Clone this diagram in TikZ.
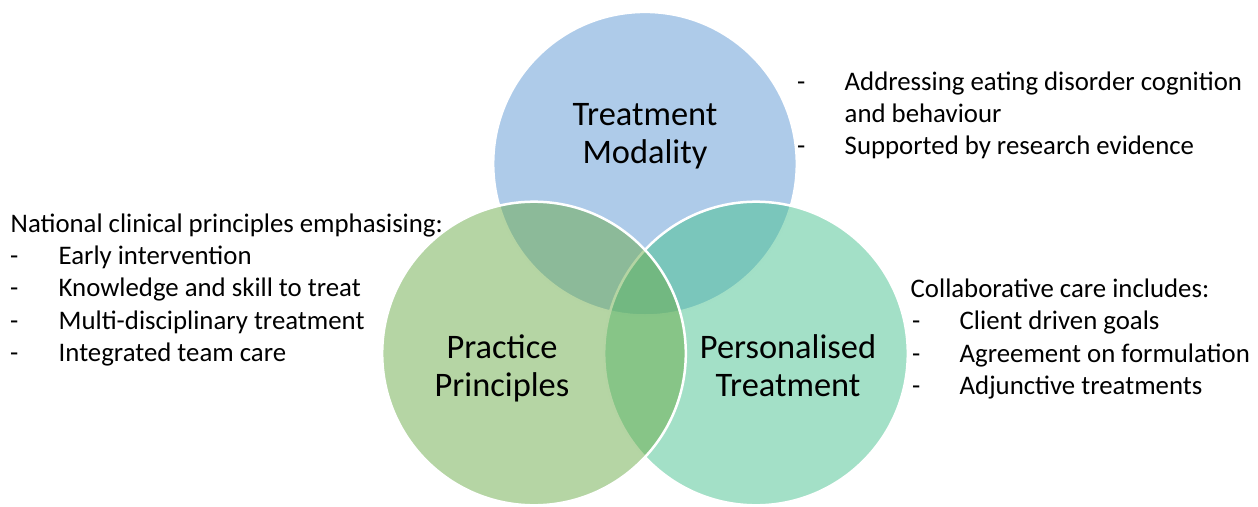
\documentclass[tikz,border=0pt]{standalone}
\usepackage{fontspec}
\setmainfont{Carlito}
\definecolor{cBlue}{RGB}{93,151,211}
\definecolor{cGreen}{RGB}{107,171,73}
\definecolor{cTeal}{RGB}{71,193,143}
\begin{document}
\begin{tikzpicture}[x=1pt,y=-1pt,
  venn/.style={circle, minimum size=303.6pt, inner sep=0pt, fill opacity=0.5, draw=white, line width=2.5pt},
  lab/.style={font=\fontsize{34.4}{38}\selectfont, inner sep=0pt, anchor=base},
  txt/.style={font=\fontsize{26.8}{32}\selectfont, inner sep=0pt, anchor=base west}]
\useasboundingbox (0,0) rectangle (1258,506);
% circles
\node[venn, fill=cBlue]  (tm) at (645,163.7) {};
\node[venn, fill=cTeal]  (pt) at (756,353.5) {};
\node[venn, fill=cGreen] (pp) at (534,353.5) {};
% circle labels
\node[lab] (tm1) at (645,125) {Treatment};
\node[lab] (tm2) at (645,163.5) {Modality};
\node[lab] (pp1) at (502,358) {Practice};
\node[lab] (pp2) at (502,396) {Principles};
\node[lab] (pt1) at (788,358) {Personalised};
\node[lab] (pt2) at (788,396) {Treatment};
% left text
\node[txt] (l0) at (10.5,232) {National clinical principles emphasising:};
\node[txt] (d1) at (10,264) {-};
\node[txt] (l1) at (58.5,264) {Early intervention};
\node[txt] (d2) at (10,296.5) {-};
\node[txt] (l2) at (58.5,296.5) {Knowledge and skill to treat};
\node[txt] (d3) at (10,329) {-};
\node[txt] (l3) at (58.5,329) {Multi-disciplinary treatment};
\node[txt] (d4) at (10,361.5) {-};
\node[txt] (l4) at (58.5,361.5) {Integrated team care};
% top right text
\node[txt] (d5) at (797,90) {-};
\node[txt] (r1) at (844.5,90) {Addressing eating disorder cognition};
\node[txt] (r2) at (844.5,122) {and behaviour};
\node[txt] (d6) at (797,154.5) {-};
\node[txt] (r3) at (844.5,154.5) {Supported by research evidence};
% bottom right text
\node[txt] (b0) at (910.5,297.5) {Collaborative care includes:};
\node[txt] (d7) at (912,329.5) {-};
\node[txt] (b1) at (959.5,329.5) {Client driven goals};
\node[txt] (d8) at (912,362) {-};
\node[txt] (b2) at (959.5,362) {Agreement on formulation};
\node[txt] (d9) at (912,394) {-};
\node[txt] (b3) at (959.5,394) {Adjunctive treatments};
\end{tikzpicture}
\end{document}
